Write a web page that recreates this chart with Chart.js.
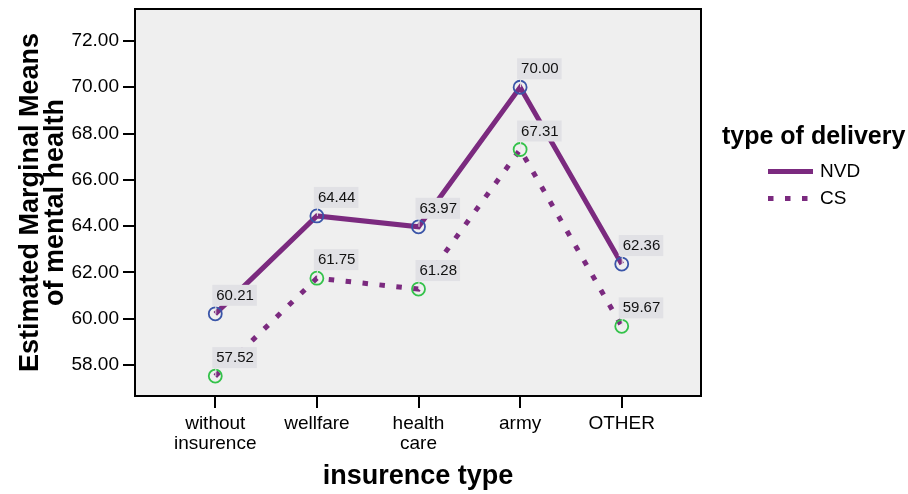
<!DOCTYPE html>
<html>
<head>
<meta charset="utf-8">
<script src="https://cdn.jsdelivr.net/npm/chart.js@4.4.1/dist/chart.umd.min.js"></script>
<style>
html, body { margin: 0; padding: 0; background: #fff; }
#wrap { width: 908px; height: 494px; }
</style>
</head>
<body>
<div id="wrap"><canvas id="chart" width="908" height="494"></canvas></div>
<script>
// insurance type on the x axis (two-line labels kept as arrays)
const categories = [['without', 'insurence'], 'wellfare', ['health', 'care'], 'army', 'OTHER'];
const nvdMeans = [60.21, 64.44, 63.97, 70.00, 62.36];
const csMeans = [57.52, 61.75, 61.28, 67.31, 59.67];
const yTicks = [58, 60, 62, 64, 66, 68, 70, 72];
const seriesNames = ['NVD', 'CS'];
const legendTitle = 'type of delivery';
const xTitle = 'insurence type';
const yTitle = ['Estimated Marginal Means', 'of mental health'];

const FONT = "'Liberation Sans', Arial, sans-serif";
const PURPLE = '#7b2a7f';
const BLUE = '#3a55a8';
const GREEN = '#34c24a';
const PLOT_BG = '#efefef';
const CS_DASH = [5.5, 11.5];

// plot background, value boxes, frame and the legend on the right
const spssDecor = {
    id: 'spssDecor',
    beforeDraw(chart) {
        const { ctx, chartArea: a } = chart;
        ctx.save();
        ctx.fillStyle = PLOT_BG;
        ctx.fillRect(a.left, a.top, a.right - a.left, a.bottom - a.top);
        ctx.restore();
    },
    afterDatasetsDraw(chart) {
        const ctx = chart.ctx;
        ctx.save();
        ctx.font = `15px ${FONT}`;
        ctx.textBaseline = 'middle';
        chart.data.datasets.forEach((ds, i) => {
            const meta = chart.getDatasetMeta(i);
            meta.data.forEach((pt, j) => {
                const text = ds.data[j].y.toFixed(2);
                const w = ctx.measureText(text).width + 7;
                const h = 21;
                const bx = pt.x - 3;
                const by = pt.y - 8 - h;
                // leader line
                ctx.strokeStyle = '#e4e4e4';
                ctx.lineWidth = 1;
                ctx.beginPath();
                ctx.moveTo(pt.x + 0.5, pt.y);
                ctx.lineTo(pt.x + 0.5, by + h);
                ctx.stroke();
                ctx.fillStyle = '#e1e1e5';
                ctx.fillRect(bx, by, w, h);
                ctx.fillStyle = '#111';
                ctx.fillText(text, bx + 4, by + h / 2 + 0.5);
            });
        });
        ctx.restore();
    },
    afterDraw(chart) {
        const { ctx, chartArea: a } = chart;
        ctx.save();
        ctx.strokeStyle = '#000';
        ctx.lineWidth = 2;
        ctx.strokeRect(a.left, a.top, a.right - a.left, a.bottom - a.top);

        // legend
        ctx.fillStyle = '#000';
        ctx.font = `bold 25px ${FONT}`;
        ctx.textBaseline = 'alphabetic';
        ctx.fillText(legendTitle, 722, 144);

        ctx.font = `19px ${FONT}`;
        ctx.textBaseline = 'middle';
        const rows = [171.5, 198.5];
        chart.data.datasets.forEach((ds, i) => {
            const y = rows[i];
            ctx.strokeStyle = ds.borderColor;
            ctx.lineWidth = 5;
            ctx.lineCap = 'butt';
            ctx.setLineDash(ds.borderDash || []);
            ctx.beginPath();
            ctx.moveTo(768, y);
            ctx.lineTo(813, y);
            ctx.stroke();
            ctx.setLineDash([]);
            ctx.fillStyle = '#000';
            ctx.fillText(seriesNames[i], 820, y + 0.5);
        });
        ctx.restore();
    }
};

const toPoints = arr => arr.map((v, i) => ({ x: i, y: v }));

const chart = new Chart(document.getElementById('chart'), {
    type: 'line',
    data: {
        datasets: [
            {
                label: seriesNames[0],
                data: toPoints(nvdMeans),
                borderColor: PURPLE,
                borderWidth: 5,
                pointRadius: 6.5,
                pointBorderWidth: 1.8,
                pointBorderColor: BLUE,
                pointBackgroundColor: 'rgba(0,0,0,0)',
                tension: 0
            },
            {
                label: seriesNames[1],
                data: toPoints(csMeans),
                borderColor: PURPLE,
                borderWidth: 5,
                borderDash: CS_DASH,
                borderCapStyle: 'butt',
                pointRadius: 6.5,
                pointBorderWidth: 1.8,
                pointBorderColor: GREEN,
                pointBackgroundColor: 'rgba(0,0,0,0)',
                tension: 0
            }
        ]
    },
    options: {
        responsive: false,
        animation: false,
        events: [],
        layout: { padding: { left: 0, right: 207, top: 9, bottom: 0 } },
        plugins: {
            legend: { display: false },
            tooltip: { enabled: false }
        },
        scales: {
            x: {
                type: 'linear',
                min: -0.79,
                max: 4.78,
                afterBuildTicks: s => { s.ticks = categories.map((c, i) => ({ value: i })); },
                afterFit: s => { s.height = 98; s.paddingLeft = 0; s.paddingRight = 0; },
                ticks: {
                    autoSkip: false,
                    maxRotation: 0,
                    callback: v => categories[v],
                    font: { family: FONT, size: 19, lineHeight: 1.05 },
                    color: '#000',
                    padding: 6
                },
                grid: { drawOnChartArea: false, drawTicks: true, tickLength: 12, color: '#000', lineWidth: 2 },
                border: { display: false },
                title: {
                    display: true,
                    text: xTitle,
                    font: { family: FONT, size: 27, weight: 'bold', lineHeight: 1.2 },
                    color: '#000',
                    padding: { top: 0, bottom: 1 }
                }
            },
            y: {
                type: 'linear',
                min: 56.66,
                max: 73.38,
                afterBuildTicks: s => { s.ticks = yTicks.map(v => ({ value: v })); },
                afterFit: s => { s.width = 135; s.paddingTop = 0; s.paddingBottom = 0; },
                ticks: {
                    callback: v => v.toFixed(2),
                    font: { family: FONT, size: 19 },
                    color: '#000',
                    padding: 4
                },
                grid: { drawOnChartArea: false, drawTicks: true, tickLength: 12, color: '#000', lineWidth: 2 },
                border: { display: false },
                title: {
                    display: true,
                    text: yTitle,
                    font: { family: FONT, size: 27, weight: 'bold', lineHeight: 0.92 },
                    color: '#000',
                    padding: { top: 18, bottom: 0 }
                }
            }
        }
    },
    plugins: [spssDecor]
});
</script>
</body>
</html>
